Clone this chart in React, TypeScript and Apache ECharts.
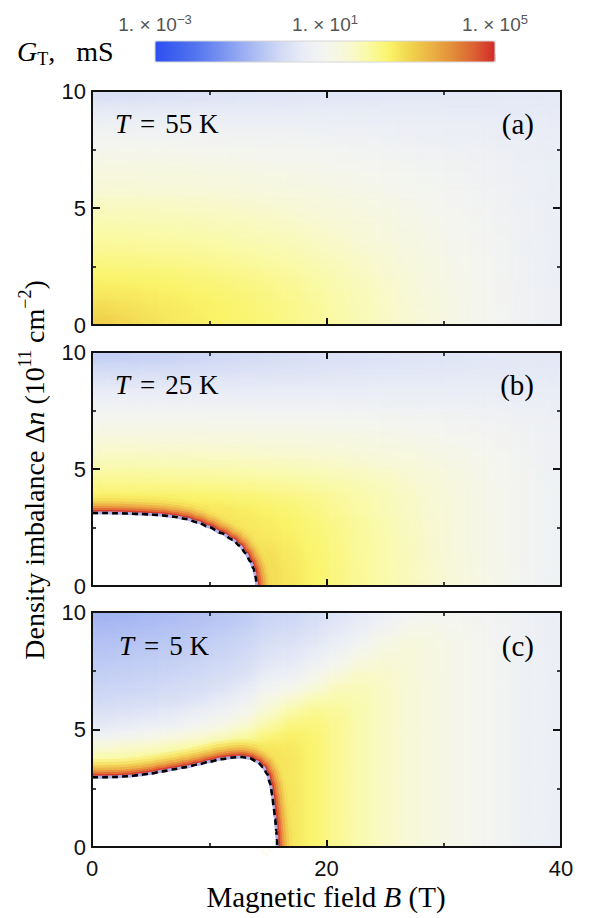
import React, { useEffect, useRef } from "react";
import * as echarts from "echarts";

// ---------- data ----------
const fieldCenters = [1, 3, 5, 7, 9, 11, 13, 15, 17, 19, 21, 23, 25, 27, 29, 31, 33, 35, 37, 39];
const densityCenters = [0.25, 0.75, 1.25, 1.75, 2.25, 2.75, 3.25, 3.75, 4.25, 4.75, 5.25, 5.75, 6.25, 6.75, 7.25, 7.75, 8.25, 8.75, 9.25, 9.75];
const panelTemps = ["55", "25", "5"];
const panelTags = ["(a)", "(b)", "(c)"];
const colorbarTicks = { min: -3, max: 5, step: 4 };

// log10(G_T / mS), rows from Δn = 0.25 (bottom) to 9.75 (top), columns B = 1 … 39 T
const logGA = [
  [3.05, 2.9, 2.78, 2.68, 2.6, 2.52, 2.44, 2.36, 2.26, 2.14, 2.0, 1.85, 1.7, 1.53, 1.37, 1.21, 1.06, 0.92, 0.78, 0.64],
  [2.88, 2.8, 2.72, 2.64, 2.57, 2.5, 2.42, 2.33, 2.24, 2.12, 1.98, 1.83, 1.68, 1.52, 1.36, 1.2, 1.05, 0.91, 0.77, 0.63],
  [2.72, 2.68, 2.63, 2.57, 2.51, 2.45, 2.38, 2.3, 2.2, 2.08, 1.95, 1.8, 1.65, 1.5, 1.34, 1.18, 1.03, 0.9, 0.76, 0.63],
  [2.58, 2.55, 2.52, 2.48, 2.43, 2.38, 2.31, 2.24, 2.14, 2.03, 1.9, 1.76, 1.62, 1.47, 1.31, 1.17, 1.02, 0.89, 0.75, 0.62],
  [2.43, 2.41, 2.39, 2.36, 2.32, 2.27, 2.21, 2.14, 2.06, 1.96, 1.84, 1.71, 1.57, 1.43, 1.28, 1.14, 1.0, 0.87, 0.74, 0.61],
  [2.29, 2.28, 2.26, 2.23, 2.2, 2.15, 2.1, 2.03, 1.96, 1.87, 1.76, 1.64, 1.52, 1.39, 1.25, 1.11, 0.98, 0.86, 0.73, 0.61],
  [2.16, 2.15, 2.13, 2.11, 2.08, 2.04, 1.99, 1.93, 1.86, 1.77, 1.67, 1.57, 1.46, 1.34, 1.21, 1.08, 0.96, 0.84, 0.72, 0.6],
  [2.04, 2.03, 2.02, 2.0, 1.97, 1.93, 1.88, 1.82, 1.76, 1.68, 1.59, 1.49, 1.39, 1.28, 1.17, 1.05, 0.94, 0.83, 0.71, 0.6],
  [1.92, 1.91, 1.9, 1.88, 1.86, 1.82, 1.78, 1.73, 1.67, 1.6, 1.51, 1.42, 1.33, 1.23, 1.13, 1.02, 0.91, 0.81, 0.7, 0.59],
  [1.8, 1.79, 1.78, 1.76, 1.74, 1.71, 1.67, 1.62, 1.57, 1.5, 1.43, 1.35, 1.26, 1.17, 1.08, 0.98, 0.88, 0.78, 0.68, 0.58],
  [1.68, 1.67, 1.66, 1.64, 1.62, 1.59, 1.55, 1.51, 1.46, 1.4, 1.34, 1.27, 1.19, 1.11, 1.03, 0.94, 0.85, 0.76, 0.67, 0.57],
  [1.52, 1.51, 1.5, 1.48, 1.46, 1.43, 1.4, 1.37, 1.33, 1.28, 1.23, 1.17, 1.11, 1.04, 0.97, 0.9, 0.82, 0.74, 0.65, 0.56],
  [1.41, 1.4, 1.39, 1.38, 1.36, 1.33, 1.3, 1.27, 1.23, 1.19, 1.14, 1.09, 1.04, 0.98, 0.92, 0.85, 0.78, 0.71, 0.63, 0.55],
  [1.29, 1.28, 1.27, 1.26, 1.24, 1.22, 1.19, 1.16, 1.13, 1.09, 1.05, 1.01, 0.96, 0.91, 0.86, 0.8, 0.74, 0.68, 0.61, 0.54],
  [1.15, 1.14, 1.13, 1.12, 1.11, 1.09, 1.07, 1.04, 1.01, 0.98, 0.95, 0.91, 0.87, 0.83, 0.79, 0.74, 0.69, 0.64, 0.59, 0.53],
  [0.98, 0.98, 0.97, 0.96, 0.95, 0.94, 0.92, 0.9, 0.88, 0.86, 0.83, 0.8, 0.77, 0.74, 0.71, 0.67, 0.63, 0.59, 0.55, 0.51],
  [0.8, 0.8, 0.79, 0.79, 0.78, 0.77, 0.76, 0.75, 0.73, 0.72, 0.7, 0.68, 0.66, 0.64, 0.62, 0.59, 0.56, 0.53, 0.5, 0.48],
  [0.6, 0.6, 0.6, 0.6, 0.6, 0.59, 0.59, 0.58, 0.58, 0.57, 0.56, 0.55, 0.54, 0.53, 0.52, 0.51, 0.49, 0.47, 0.46, 0.45],
  [0.38, 0.38, 0.39, 0.4, 0.4, 0.41, 0.41, 0.42, 0.42, 0.43, 0.43, 0.43, 0.43, 0.43, 0.43, 0.42, 0.42, 0.42, 0.42, 0.41],
  [0.14, 0.16, 0.18, 0.2, 0.22, 0.24, 0.26, 0.27, 0.29, 0.3, 0.31, 0.32, 0.33, 0.34, 0.35, 0.36, 0.36, 0.37, 0.38, 0.38],
];

const logGB = [
  [2.9, 2.9, 2.9, 2.9, 2.9, 2.9, 2.9, 2.9, 2.7, 2.5, 2.3, 2.12, 1.95, 1.78, 1.6, 1.42, 1.25, 1.08, 0.91, 0.75],
  [2.9, 2.9, 2.9, 2.9, 2.9, 2.9, 2.9, 2.9, 2.68, 2.49, 2.3, 2.12, 1.95, 1.78, 1.59, 1.41, 1.24, 1.07, 0.9, 0.75],
  [2.9, 2.9, 2.9, 2.9, 2.9, 2.9, 2.9, 2.85, 2.65, 2.47, 2.29, 2.11, 1.94, 1.77, 1.58, 1.4, 1.23, 1.07, 0.9, 0.75],
  [2.9, 2.9, 2.9, 2.9, 2.9, 2.9, 2.85, 2.75, 2.6, 2.44, 2.27, 2.1, 1.93, 1.76, 1.57, 1.39, 1.22, 1.06, 0.9, 0.75],
  [2.9, 2.9, 2.9, 2.9, 2.9, 2.85, 2.75, 2.65, 2.55, 2.4, 2.25, 2.08, 1.92, 1.74, 1.56, 1.38, 1.22, 1.06, 0.9, 0.75],
  [2.9, 2.9, 2.9, 2.9, 2.85, 2.75, 2.68, 2.6, 2.5, 2.36, 2.22, 2.06, 1.9, 1.72, 1.55, 1.37, 1.21, 1.05, 0.89, 0.74],
  [2.85, 2.85, 2.85, 2.8, 2.75, 2.68, 2.6, 2.52, 2.42, 2.3, 2.15, 2.0, 1.85, 1.69, 1.52, 1.36, 1.2, 1.05, 0.89, 0.74],
  [2.6, 2.6, 2.58, 2.56, 2.52, 2.48, 2.43, 2.38, 2.31, 2.22, 2.1, 1.97, 1.83, 1.67, 1.51, 1.36, 1.2, 1.05, 0.9, 0.74],
  [2.3, 2.3, 2.29, 2.28, 2.27, 2.25, 2.22, 2.18, 2.13, 2.06, 1.98, 1.88, 1.76, 1.62, 1.48, 1.34, 1.19, 1.04, 0.89, 0.73],
  [2.08, 2.08, 2.07, 2.06, 2.05, 2.03, 2.0, 1.97, 1.93, 1.88, 1.82, 1.74, 1.65, 1.54, 1.42, 1.3, 1.16, 1.02, 0.88, 0.72],
  [1.85, 1.85, 1.84, 1.83, 1.82, 1.8, 1.78, 1.75, 1.72, 1.68, 1.63, 1.57, 1.5, 1.42, 1.33, 1.23, 1.12, 1.0, 0.86, 0.71],
  [1.63, 1.63, 1.62, 1.62, 1.61, 1.6, 1.58, 1.56, 1.53, 1.5, 1.46, 1.41, 1.36, 1.3, 1.23, 1.15, 1.06, 0.96, 0.84, 0.7],
  [1.42, 1.42, 1.41, 1.41, 1.4, 1.39, 1.38, 1.36, 1.34, 1.32, 1.29, 1.26, 1.22, 1.17, 1.11, 1.05, 0.98, 0.9, 0.8, 0.68],
  [1.2, 1.2, 1.2, 1.19, 1.19, 1.18, 1.17, 1.16, 1.15, 1.13, 1.11, 1.09, 1.06, 1.03, 0.99, 0.94, 0.89, 0.83, 0.75, 0.66],
  [0.97, 0.97, 0.97, 0.97, 0.97, 0.96, 0.96, 0.95, 0.94, 0.93, 0.92, 0.91, 0.89, 0.87, 0.85, 0.82, 0.78, 0.74, 0.69, 0.63],
  [0.74, 0.74, 0.74, 0.74, 0.74, 0.74, 0.74, 0.74, 0.74, 0.73, 0.73, 0.73, 0.72, 0.71, 0.7, 0.68, 0.66, 0.63, 0.6, 0.57],
  [0.5, 0.5, 0.5, 0.51, 0.51, 0.52, 0.52, 0.53, 0.53, 0.54, 0.54, 0.54, 0.55, 0.55, 0.55, 0.54, 0.54, 0.53, 0.52, 0.5],
  [0.25, 0.26, 0.27, 0.28, 0.3, 0.31, 0.33, 0.34, 0.36, 0.37, 0.38, 0.39, 0.4, 0.41, 0.42, 0.43, 0.44, 0.44, 0.44, 0.44],
  [0.0, 0.01, 0.03, 0.06, 0.09, 0.12, 0.15, 0.18, 0.2, 0.22, 0.24, 0.26, 0.28, 0.3, 0.32, 0.34, 0.35, 0.36, 0.37, 0.38],
  [-0.25, -0.24, -0.21, -0.17, -0.12, -0.07, -0.02, 0.03, 0.07, 0.11, 0.15, 0.18, 0.21, 0.24, 0.27, 0.29, 0.31, 0.33, 0.34, 0.35],
];

const logGC = [
  [2.8, 2.8, 2.8, 2.8, 2.8, 2.8, 2.8, 2.8, 2.72, 2.45, 2.15, 1.9, 1.68, 1.48, 1.3, 1.14, 0.99, 0.85, 0.72, 0.6],
  [2.8, 2.8, 2.8, 2.8, 2.8, 2.8, 2.8, 2.8, 2.72, 2.45, 2.15, 1.9, 1.68, 1.48, 1.3, 1.14, 0.99, 0.85, 0.72, 0.6],
  [2.8, 2.8, 2.8, 2.8, 2.8, 2.8, 2.8, 2.8, 2.72, 2.45, 2.15, 1.9, 1.68, 1.48, 1.3, 1.14, 0.99, 0.85, 0.72, 0.6],
  [2.8, 2.8, 2.8, 2.8, 2.8, 2.8, 2.8, 2.8, 2.72, 2.45, 2.15, 1.9, 1.68, 1.48, 1.3, 1.14, 0.99, 0.85, 0.72, 0.6],
  [2.8, 2.8, 2.8, 2.8, 2.8, 2.8, 2.8, 2.8, 2.72, 2.45, 2.15, 1.9, 1.68, 1.48, 1.3, 1.14, 0.99, 0.85, 0.72, 0.6],
  [2.8, 2.8, 2.8, 2.8, 2.8, 2.8, 2.8, 2.8, 2.7, 2.45, 2.15, 1.9, 1.68, 1.48, 1.3, 1.14, 0.99, 0.85, 0.72, 0.6],
  [2.7, 2.7, 2.75, 2.8, 2.8, 2.8, 2.8, 2.8, 2.7, 2.45, 2.15, 1.9, 1.68, 1.48, 1.3, 1.14, 0.99, 0.85, 0.72, 0.6],
  [2.0, 2.05, 2.15, 2.35, 2.6, 2.75, 2.8, 2.8, 2.7, 2.45, 2.15, 1.9, 1.68, 1.48, 1.3, 1.14, 0.99, 0.85, 0.72, 0.6],
  [1.5, 1.6, 1.7, 1.85, 2.05, 2.3, 2.55, 2.7, 2.65, 2.45, 2.15, 1.9, 1.68, 1.48, 1.3, 1.14, 0.99, 0.85, 0.72, 0.6],
  [0.8, 0.9, 1.05, 1.25, 1.45, 1.7, 2.0, 2.35, 2.55, 2.42, 2.15, 1.9, 1.68, 1.48, 1.3, 1.14, 0.99, 0.85, 0.72, 0.6],
  [0.35, 0.45, 0.55, 0.7, 0.9, 1.15, 1.5, 1.95, 2.3, 2.35, 2.15, 1.9, 1.68, 1.48, 1.3, 1.14, 0.99, 0.85, 0.72, 0.6],
  [0.15, 0.2, 0.28, 0.38, 0.55, 0.75, 1.05, 1.6, 2.0, 2.2, 2.1, 1.9, 1.68, 1.48, 1.3, 1.14, 0.99, 0.85, 0.72, 0.6],
  [-0.05, 0.0, 0.05, 0.12, 0.25, 0.45, 0.7, 1.25, 1.6, 1.9, 1.98, 1.88, 1.68, 1.48, 1.3, 1.14, 0.99, 0.85, 0.72, 0.6],
  [-0.15, -0.12, -0.08, 0.0, 0.05, 0.2, 0.45, 0.9, 1.1, 1.5, 1.78, 1.82, 1.66, 1.48, 1.3, 1.14, 0.99, 0.85, 0.72, 0.6],
  [-0.25, -0.22, -0.18, -0.12, -0.05, 0.05, 0.2, 0.6, 0.7, 1.1, 1.5, 1.7, 1.62, 1.47, 1.3, 1.14, 0.99, 0.85, 0.72, 0.6],
  [-0.35, -0.32, -0.28, -0.22, -0.15, -0.05, 0.05, 0.35, 0.45, 0.75, 1.1, 1.45, 1.55, 1.45, 1.29, 1.14, 0.99, 0.85, 0.72, 0.6],
  [-0.45, -0.42, -0.38, -0.32, -0.25, -0.15, -0.05, 0.2, 0.3, 0.5, 0.8, 1.15, 1.4, 1.42, 1.28, 1.13, 0.98, 0.85, 0.72, 0.6],
  [-0.55, -0.52, -0.48, -0.42, -0.35, -0.25, -0.15, 0.05, 0.15, 0.32, 0.55, 0.85, 1.2, 1.38, 1.27, 1.13, 0.98, 0.84, 0.71, 0.59],
  [-0.65, -0.62, -0.58, -0.52, -0.45, -0.35, -0.25, -0.05, 0.0, 0.18, 0.38, 0.6, 0.9, 1.18, 1.2, 1.1, 0.96, 0.83, 0.7, 0.58],
  [-0.8, -0.76, -0.7, -0.63, -0.55, -0.45, -0.35, -0.15, -0.1, 0.05, 0.25, 0.45, 0.7, 0.95, 1.05, 1.0, 0.9, 0.8, 0.68, 0.56],
];

// boundary of the non-conducting (white) region: [B, Δn]
const boundaryB = [
  [0, 3.12], [1, 3.12], [2, 3.11], [3, 3.1], [4, 3.08], [5, 3.06], [6, 3.02], [7, 2.96], [8, 2.87],
  [9, 2.72], [10, 2.52], [11, 2.27], [12, 1.98], [12.6, 1.72], [13.1, 1.4], [13.5, 1.06], [13.78, 0.75],
  [13.95, 0.4], [14.05, 0],
];
const boundaryC = [
  [0, 2.97], [1, 2.97], [2, 2.98], [3, 3.01], [4, 3.06], [5, 3.13], [6, 3.22], [7, 3.31], [8, 3.4],
  [9, 3.51], [10, 3.63], [11, 3.74], [12, 3.81], [12.8, 3.83], [13.5, 3.77], [14.1, 3.62], [14.6, 3.4],
  [14.95, 3.1], [15.2, 2.7], [15.38, 2.2], [15.5, 1.7], [15.62, 1.2], [15.72, 0.7], [15.78, 0.3], [15.8, 0],
];

const colorStops = [
  "#2d4ff0", "#3f62ef", "#5677ef", "#7590f0", "#96aaf2", "#b6c4f3", "#d4dcf5", "#eaedf6", "#f4f5f0",
  "#f7f8d6", "#fafaa8", "#faf46a", "#f1d44e", "#ebb244", "#e28e3a", "#db6233", "#d42a2a",
];
// halo along the boundary (outermost first): [width, colour, opacity]
const haloLayers: [number, string, number][] = [
  [36, "#f6e45e", 0.35],
  [30, "#f3d454", 0.45],
  [24, "#efbe4a", 0.55],
  [19, "#eba443", 0.65],
  [14, "#e6883c", 0.75],
  [10, "#e06636", 0.85],
  [6, "#d63b2c", 1],
];

// ---------- layout ----------
const PLOT_LEFT = 92;
const PLOT_WIDTH = 469;
const PANEL_TOPS = [91, 352, 612];
const PANEL_HEIGHTS = [234, 234, 235];
const SERIF = "Liberation Serif";
const SANS = "Liberation Sans";
const INK = "#111";

function frameX(gridIndex: number, position: string, showLabel: boolean) {
  return {
    gridIndex, type: "value", position, min: 0, max: 40, interval: 20, z: 10,
    axisLine: { show: true, onZero: false, lineStyle: { color: INK, width: 2 } },
    axisTick: { show: true, inside: true, length: 7, lineStyle: { color: INK, width: 2 } },
    minorTick: { show: true, splitNumber: 2, length: 4, lineStyle: { color: INK, width: 1.6 } },
    axisLabel: { show: showLabel, margin: 10, fontSize: 22, fontFamily: SANS, color: INK },
    splitLine: { show: false }, minorSplitLine: { show: false },
  };
}
function frameY(gridIndex: number, position: string, showLabel: boolean) {
  return {
    gridIndex, type: "value", position, min: 0, max: 10, interval: 5, z: 10,
    axisLine: { show: true, onZero: false, lineStyle: { color: INK, width: 2 } },
    axisTick: { show: true, inside: true, length: 8, lineStyle: { color: INK, width: 2 } },
    minorTick: { show: true, splitNumber: 2, length: 4, lineStyle: { color: INK, width: 1.6 } },
    axisLabel: { show: showLabel, margin: 6, fontSize: 22, fontFamily: SANS, color: INK },
    splitLine: { show: false }, minorSplitLine: { show: false },
  };
}

// one heat map per panel (drawn in its own plot-sized box)
function buildHeatOption(k: number) {
  const field = [logGA, logGB, logGC][k];
  const data: number[][] = [];
  field.forEach((row, i) => row.forEach((v, j) => data.push([j, i, v])));
  return {
    animation: false,
    backgroundColor: "transparent",
    grid: { left: 0, top: 0, right: 0, bottom: 0 },
    xAxis: { type: "category", data: fieldCenters.map(String), show: false },
    yAxis: { type: "category", data: densityCenters.map(String), show: false },
    visualMap: { type: "continuous", show: false, min: -3, max: 5, inRange: { color: colorStops } },
    series: [{
      type: "heatmap", data, itemStyle: { borderWidth: 0 }, emphasis: { disabled: true }, progressive: 0,
    }],
  };
}

function buildOverlayOption() {
  const grids: any[] = [];
  const xAxes: any[] = [];
  const yAxes: any[] = [];
  const lineSeries: any[] = [];
  const boundaries: any[] = [null, boundaryB, boundaryC];

  for (let k = 0; k < 3; k++) {
    const g = grids.length;
    grids.push({ left: PLOT_LEFT, top: PANEL_TOPS[k], width: PLOT_WIDTH, height: PANEL_HEIGHTS[k], show: false });
    const fx = xAxes.length;
    xAxes.push(frameX(g, "bottom", k === 2));
    xAxes.push(frameX(g, "top", false));
    const fy = yAxes.length;
    yAxes.push(frameY(g, "left", true));
    yAxes.push(frameY(g, "right", false));

    const bd = boundaries[k];
    if (bd) {
      const common = { type: "line", xAxisIndex: fx, yAxisIndex: fy, data: bd, symbol: "none", smooth: 0.3, smoothMonotone: "x", silent: true };
      haloLayers.forEach(([w, c, o]) => {
        lineSeries.push({ ...common, z: 2, lineStyle: { color: c, width: w, opacity: o, cap: "butt" } });
      });
      lineSeries.push({ ...common, z: 3, lineStyle: { width: 0, opacity: 0 }, areaStyle: { color: "#ffffff", opacity: 1 } });
      lineSeries.push({ ...common, z: 4, lineStyle: { color: "#b3afe8", width: 3 } });
      lineSeries.push({ ...common, z: 5, lineStyle: { color: "#000", width: 2.6, type: [6, 4] } });
    }
  }

  // colorbar tick axis
  const gBar = grids.length;
  grids.push({ left: 155, top: 41, width: 340, height: 21, show: false });
  xAxes.push({
    gridIndex: gBar, type: "value", position: "top",
    min: colorbarTicks.min, max: colorbarTicks.max, interval: colorbarTicks.step,
    axisLine: { show: false },
    axisTick: { show: true, length: 8, lineStyle: { color: "#cfcfcf", width: 1 } },
    splitLine: { show: false },
    axisLabel: {
      margin: 6,
      formatter: (v: number) => `{b|1. × 10}{s|${v < 0 ? "−" + -v : v}}`,
      rich: {
        b: { fontSize: 19, fontFamily: SANS, color: "#555", lineHeight: 22 },
        s: { fontSize: 13, fontFamily: SANS, color: "#555", verticalAlign: "top" },
      },
    },
  });
  yAxes.push({ gridIndex: gBar, type: "value", show: false });

  const serifRich = (size: number) => ({
    r: { fontSize: size, fontFamily: SERIF, color: INK },
    i: { fontSize: size, fontFamily: SERIF, fontStyle: "italic", color: INK },
    eq: { fontSize: size, fontFamily: SERIF, color: INK, padding: [0, 10, 0, 10] },
  });

  const graphic: any[] = [];
  graphic.push({
    type: "rect", shape: { x: 155, y: 41, width: 340, height: 21 }, z: 30, silent: true,
    style: { fill: "none", stroke: "#d6d6d6", lineWidth: 1 },
  });
  graphic.push({
    type: "text", x: 17, y: 51,
    style: {
      text: "{i|G}{sub|T}{r|,   mS}", align: "left", verticalAlign: "middle",
      rich: {
        i: { fontSize: 28, fontFamily: SERIF, fontStyle: "italic", color: INK, lineHeight: 34 },
        sub: { fontSize: 18, fontFamily: SERIF, color: INK, verticalAlign: "bottom", lineHeight: 25 },
        r: { fontSize: 28, fontFamily: SERIF, color: INK, lineHeight: 34 },
      },
    },
  });
  const labelY = [124, 385, 646];
  for (let k = 0; k < 3; k++) {
    graphic.push({
      type: "text", x: k === 2 ? 119 : 115, y: labelY[k], z: 20,
      style: { text: `{i|T}{eq|=}{r|${panelTemps[k]} K}`, align: "left", verticalAlign: "middle", rich: serifRich(27) },
    });
    graphic.push({
      type: "text", x: 534, y: labelY[k], z: 20,
      style: { text: `{r|${panelTags[k]}}`, align: "right", verticalAlign: "middle", rich: serifRich(29) },
    });
  }
  graphic.push({
    type: "text", x: 326, y: 897,
    style: { text: "{r|Magnetic field }{i|B}{r| (T)}", align: "center", verticalAlign: "middle", rich: serifRich(29) },
  });
  graphic.push({
    type: "text", x: 34, y: 470, rotation: Math.PI / 2,
    style: {
      text: "{r|Density imbalance Δ}{i|n}{r| (10}{s|11}{r| cm}{s|−2}{r|)}",
      align: "center", verticalAlign: "middle",
      rich: {
        r: { fontSize: 28, fontFamily: SERIF, color: INK, lineHeight: 36 },
        i: { fontSize: 28, fontFamily: SERIF, fontStyle: "italic", color: INK, lineHeight: 36 },
        s: { fontSize: 18, fontFamily: SERIF, color: INK, verticalAlign: "top", lineHeight: 20 },
      },
    },
  });

  return {
    animation: false,
    backgroundColor: "transparent",
    grid: grids,
    xAxis: xAxes,
    yAxis: yAxes,
    visualMap: {
      type: "continuous", show: true, min: -3, max: 5, orient: "horizontal",
      left: 155, top: 41, itemWidth: 21, itemHeight: 340, padding: 0,
      calculable: false, hoverLink: false, seriesIndex: [],
      inRange: { color: colorStops },
    },
    series: lineSeries,
    graphic,
  };
}

export default function App() {
  const overlayRef = useRef<HTMLDivElement>(null);
  const heatA = useRef<HTMLDivElement>(null);
  const heatB = useRef<HTMLDivElement>(null);
  const heatC = useRef<HTMLDivElement>(null);
  const heatRefs = [heatA, heatB, heatC];

  useEffect(() => {
    document.body.style.margin = "0";
    const charts: echarts.ECharts[] = [];
    heatRefs.forEach((r, k) => {
      const c = echarts.init(r.current!, undefined, { renderer: "svg" });
      c.setOption(buildHeatOption(k) as any);
      charts.push(c);
    });
    const ov = echarts.init(overlayRef.current!, undefined, { renderer: "svg" });
    ov.setOption(buildOverlayOption() as any);
    charts.push(ov);
    return () => charts.forEach((c) => c.dispose());
  }, []);

  return (
    <div style={{ position: "absolute", left: 0, top: 0, width: 590, height: 918, background: "#fff" }}>
      <svg width={0} height={0} style={{ position: "absolute" }}>
        <defs>
          <filter id="cellSmooth" x="-10%" y="-10%" width="120%" height="120%" colorInterpolationFilters="sRGB">
            <feGaussianBlur stdDeviation="7 3.5" />
            <feComponentTransfer>
              <feFuncA type="linear" slope={40} intercept={0} />
            </feComponentTransfer>
          </filter>
        </defs>
      </svg>
      {PANEL_TOPS.map((t, k) => (
        <div
          key={k}
          style={{ position: "absolute", left: PLOT_LEFT, top: t, width: PLOT_WIDTH, height: PANEL_HEIGHTS[k], overflow: "hidden" }}
        >
          <div ref={heatRefs[k]} style={{ width: PLOT_WIDTH, height: PANEL_HEIGHTS[k], filter: "url(#cellSmooth)" }} />
        </div>
      ))}
      <div ref={overlayRef} style={{ position: "absolute", left: 0, top: 0, width: 590, height: 918 }} />
    </div>
  );
}
